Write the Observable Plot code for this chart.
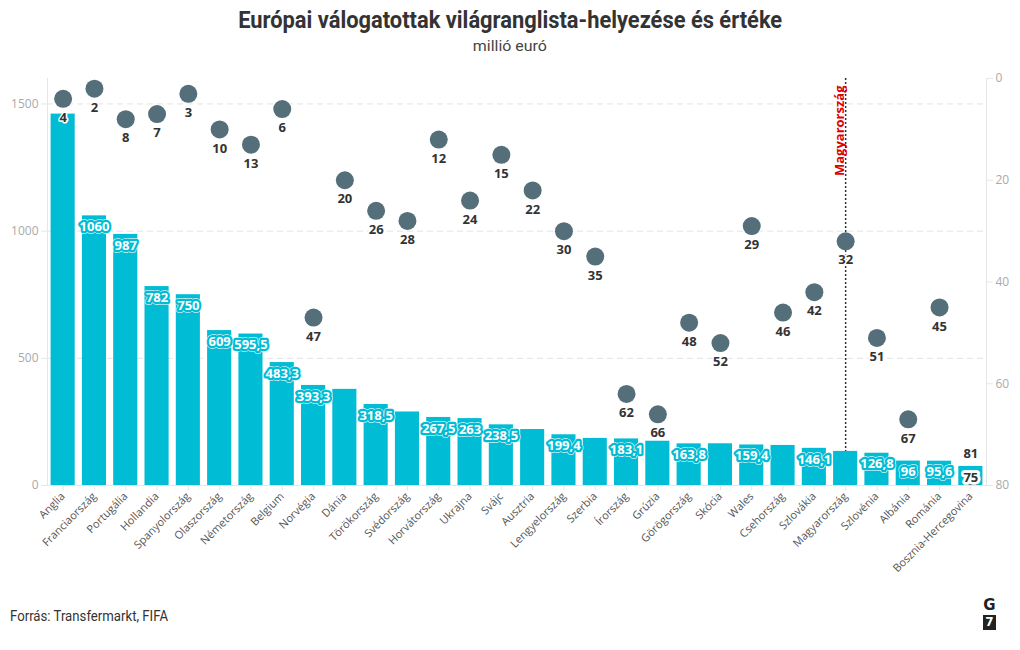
<!DOCTYPE html>
<html><head><meta charset="utf-8">
<script src="https://cdn.jsdelivr.net/npm/d3@7"></script>
<script src="https://cdn.jsdelivr.net/npm/@observablehq/plot@0.6"></script>
<style>
body{margin:0;background:#fff;}
#wrap{position:relative;width:1020px;height:650px;overflow:hidden;background:#fff;}
#title{position:absolute;top:7px;left:0;width:1020px;text-align:center;font-family:Roboto,"Noto Sans",sans-serif;font-weight:bold;font-size:23px;color:#333;}
#sub{position:absolute;top:37px;left:0;width:1020px;text-align:center;font-family:Roboto,"Noto Sans",sans-serif;font-size:15px;color:#444;}
#title span,#sub span,#src span{display:inline-block;white-space:nowrap;}
#title span,#sub span{transform-origin:50% 50%;}
#src span{transform-origin:0 50%;}
#chart{position:absolute;top:60px;left:0;}
#src{position:absolute;top:608px;left:10px;font-family:Roboto,"Noto Sans",sans-serif;font-size:14px;color:#333;}
#logo{position:absolute;top:598px;left:982px;width:15px;text-align:center;font-family:"DejaVu Sans",sans-serif;font-weight:bold;color:#222;line-height:1;}
#logo .g{font-size:15px;}
#logo .s{display:inline-block;background:#222;color:#fff;font-size:12px;width:13px;height:15px;line-height:15px;margin-top:1px;}
</style></head><body>
<div id="wrap">
  <div id="title"><span>Európai válogatottak világranglista-helyezése és értéke</span></div>
  <div id="sub"><span>millió euró</span></div>
  <div id="chart"></div>
  <div id="src"><span>Forrás: Transfermarkt, FIFA</span></div>
  <div id="logo"><div class="g">G</div><div class="s">7</div></div>
</div>
<script>
const countries = ["Anglia","Franciaország","Portugália","Hollandia","Spanyolország","Olaszország","Németország","Belgium","Norvégia","Dánia","Törökország","Svédország","Horvátország","Ukrajna","Svájc","Ausztria","Lengyelország","Szerbia","Írország","Grúzia","Görögország","Skócia","Wales","Csehország","Szlovákia","Magyarország","Szlovénia","Albánia","Románia","Bosznia-Hercegovina"];
const values = [1460,1060,987,782,750,609,595.5,483.3,393.3,378,318.5,289,267.5,263,238.5,220,199.4,185,183.1,174,163.8,164,159.4,157.5,146.1,134,126.8,96,95.6,75];
const ranks = [4,2,8,7,3,10,13,6,47,20,26,28,12,24,15,22,30,35,62,66,48,52,29,46,42,32,51,67,45,81];
const unlabeled = ["Anglia","Dánia","Svédország","Ausztria","Szerbia","Grúzia","Skócia","Csehország","Magyarország"];
const highlight = "Magyarország";
const valueTicks = [0,500,1000,1500];
const rankTicks = [0,20,40,60,80];
const valueMax = 1600, rankMax = 80;

const data = countries.map((c,i)=>({country:c, value:values[i], rank:ranks[i]}));
const rankToV = r => valueMax*(1 - r/rankMax);
const fmt = v => String(v).replace(".", ",");
const barColor = "#00bcd4", dotColor = "#546e7a";
const labeledData = data.filter(d=>!unlabeled.includes(d.country));
const hu = data.filter(d=>d.country===highlight);
const inside = data.filter(d=>d.rank<=rankMax-4);
const beyond = data.filter(d=>d.rank>rankMax-4);

const chart = Plot.plot({
  width: 1020, height: 525,
  marginTop: 18, marginBottom: 100, marginLeft: 47, marginRight: 34,
  style: {fontFamily: "'Open Sans', sans-serif", background: "white", overflow: "visible"},
  x: {domain: countries, paddingInner: 0.23, paddingOuter: 0.115, round: false, label: null},
  y: {domain: [0, valueMax], label: null},
  marks: [
    Plot.gridY(valueTicks.filter(v=>v>0), {stroke:"#e3e3e3", strokeOpacity:1, strokeDasharray:"6,4"}),
    Plot.frame({anchor:"left", stroke:"#e6e6e6"}),
    Plot.frame({anchor:"right", stroke:"#e6e6e6"}),
    Plot.axisY(valueTicks, {anchor:"left", tickSize:6, stroke:"#e6e6e6", fill:"#aaa", fontSize:12, tickPadding:3, label:null, tickFormat: v => String(v)}),
    Plot.axisY(rankTicks.map(rankToV), {anchor:"right", tickSize:6, stroke:"#e6e6e6", fill:"#aaa", fontSize:12, tickPadding:3, label:null, tickFormat: v => String(Math.round(rankMax*(1 - v/valueMax)))}),
    Plot.barY(data, {x:"country", y:"value", fill: barColor}),
    Plot.ruleY([0], {stroke:"#e6e6e6"}),
    Plot.axisX({tickRotate:-45, tickSize:5, stroke:"#e6e6e6", fill:"#555", fontSize:11, tickPadding:4, label:null}),
    Plot.ruleX(hu, {x:"country", y1: valueMax, y2:"value", stroke:"#333", strokeWidth:1.5, strokeDasharray:"2,2"}),
    Plot.text(hu, {x:"country", frameAnchor:"top", text: ()=>highlight, rotate:-90, textAnchor:"end", dx:-11, dy:7, fill:"#e00000", fontWeight:"bold", fontSize:13}),
    Plot.dot(data, {x:"country", y: d=>rankToV(d.rank), r: 9, fill: dotColor, stroke:"none", clip: true}),
    Plot.text(labeledData, {x:"country", y:"value", text: d=>fmt(d.value), dy: 11, fill:"white", stroke:"white", strokeWidth:5.5, fontWeight:"bold", fontSize:13, strokeLinejoin:"round"}),
    Plot.text(labeledData, {x:"country", y:"value", text: d=>fmt(d.value), dy: 11, fill: d => d.value < 80 ? "#333" : "white", stroke: d => d.value < 80 ? "white" : barColor, strokeWidth:4.5, fontWeight:"bold", fontSize:13, strokeLinejoin:"round"}),
    Plot.text(inside, {x:"country", y: d=>rankToV(d.rank), text: d=>String(d.rank), dy: 19, fill:"#333", stroke:"white", strokeWidth:3, fontWeight:"bold", fontSize:13}),
    Plot.text(beyond, {x:"country", y: d=>rankToV(d.rank), text: d=>String(d.rank), dy: -37, fill:"#333", stroke:"white", strokeWidth:3, fontWeight:"bold", fontSize:13})
  ]
});
document.getElementById("chart").appendChild(chart);

function fit(sel, w){
  const el = document.querySelector(sel);
  const cw = el.getBoundingClientRect().width;
  if (cw > 0) el.style.transform = `scaleX(${w/cw})`;
}
fit("#title span", 544);
fit("#sub span", 74);
fit("#src span", 158);
</script>
</body></html>
